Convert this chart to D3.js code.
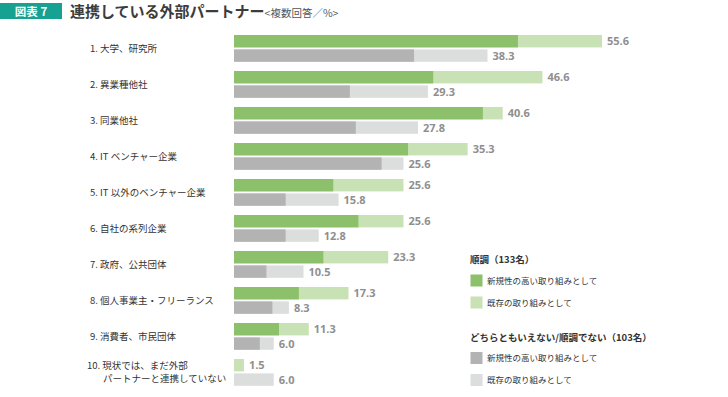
<!DOCTYPE html>
<html><head><meta charset="utf-8">
<script src="https://cdn.jsdelivr.net/npm/d3@7"></script>
<style>
body{margin:0;background:#fff;}
svg{display:block;font-family:"Noto Sans CJK JP","Noto Sans",sans-serif;}
</style></head>
<body>
<svg id="c" width="728" height="397"></svg>
<script>
const categories = ["1. 大学、研究所","2. 異業種他社","3. 同業他社","4. IT ベンチャー企業","5. IT 以外のベンチャー企業","6. 自社の系列企業","7. 政府、公共団体","8. 個人事業主・フリーランス","9. 消費者、市民団体","10. 現状では、まだ外部|パートナーと連携していない"];
const goodTotal = [55.6,46.6,40.6,35.3,25.6,25.6,23.3,17.3,11.3,1.5];
const goodNew   = [42.9,30.1,37.6,26.3,15.0,18.8,13.5,9.8,6.8,0];
const otherTotal= [38.3,29.3,27.8,25.6,15.8,12.8,10.5,8.3,6.0,6.0];
const otherNew  = [27.2,17.5,18.4,22.3,7.8,7.8,4.9,5.8,3.9,0];
const legendGroups = ["順調（133名）","どちらともいえない/順調でない（103名）"];
const legendItems = ["新規性の高い取り組みとして","既存の取り組みとして"];
const colors = {gNew:"#8cc06b", gOld:"#c9e2b5", oNew:"#b3b3b3", oOld:"#dcdddd"};

const svg = d3.select("#c");
// title
svg.append("rect").attr("x",0).attr("y",3).attr("width",62).attr("height",16).attr("fill","#17a192");
svg.append("text").attr("x",31).attr("y",15.5).attr("text-anchor","middle").attr("fill","#fff")
  .attr("font-size",11.5).attr("font-weight","bold").text("図表 7");
const t = svg.append("text").attr("x",70).attr("y",17).attr("fill","#3c3c3c");
t.append("tspan").attr("font-size",15).attr("font-weight","bold").text("連携している外部パートナー");
t.append("tspan").attr("font-size",10.5).attr("fill","#555").text("<複数回答／%>");

const x = d3.scaleLinear().domain([0,55.6]).range([234,602]);
const y = d3.scaleBand().domain(d3.range(categories.length)).range([31,391]).paddingInner(0).paddingOuter(0);
const bh = 12.4, gap = 2;

const rows = svg.selectAll("g.row").data(categories).join("g").attr("class","row");
rows.each(function(cat,i){
  const g = d3.select(this);
  const top = y(i)+4;
  g.append("rect").attr("x",x(0)).attr("y",top).attr("width",x(goodTotal[i])-x(0)).attr("height",bh).attr("fill",colors.gOld);
  g.append("rect").attr("x",x(0)).attr("y",top).attr("width",x(goodNew[i])-x(0)).attr("height",bh).attr("fill",colors.gNew);
  const t2 = top+bh+gap;
  g.append("rect").attr("x",x(0)).attr("y",t2).attr("width",x(otherTotal[i])-x(0)).attr("height",bh).attr("fill",colors.oOld);
  g.append("rect").attr("x",x(0)).attr("y",t2).attr("width",x(otherNew[i])-x(0)).attr("height",bh).attr("fill",colors.oNew);
  g.append("text").attr("x",x(goodTotal[i])+5).attr("y",top+bh/2+4).attr("font-size",11).attr("font-weight","bold")
    .attr("fill","#8f8f8f").attr("font-family","'Open Sans',sans-serif").text(goodTotal[i].toFixed(1));
  g.append("text").attr("x",x(otherTotal[i])+5).attr("y",t2+bh/2+4).attr("font-size",11).attr("font-weight","bold")
    .attr("fill","#8f8f8f").attr("font-family","'Open Sans',sans-serif").text(otherTotal[i].toFixed(1));
  const parts = cat.split("|");
  const mid = top+bh+gap/2;
  if(parts.length===1){
    g.append("text").attr("x",90).attr("y",mid+3.5).attr("font-size",9.5).attr("fill","#333").text(parts[0]);
  } else {
    g.append("text").attr("x",87).attr("y",mid-3).attr("font-size",9.5).attr("fill","#333").text(parts[0]);
    g.append("text").attr("x",103).attr("y",mid+9.5).attr("font-size",9.5).attr("fill","#333").text(parts[1]);
  }
});

// legend
const lg = svg.append("g");
const lcol = [[colors.gNew,colors.gOld],[colors.oNew,colors.oOld]];
const gy = [259.5, 337];
legendGroups.forEach((name,gi)=>{
  lg.append("text").attr("x",470).attr("y",gy[gi]+3.5).attr("font-size",9.5).attr("font-weight","bold").attr("fill","#333").text(name);
  legendItems.forEach((it,ii)=>{
    const cy = gy[gi]+21+ii*22;
    lg.append("rect").attr("x",470.5).attr("y",cy-6).attr("width",12).attr("height",12).attr("fill",lcol[gi][ii]);
    lg.append("text").attr("x",487).attr("y",cy+3).attr("font-size",8.5).attr("fill","#333").text(it);
  });
});
</script>
</body></html>
